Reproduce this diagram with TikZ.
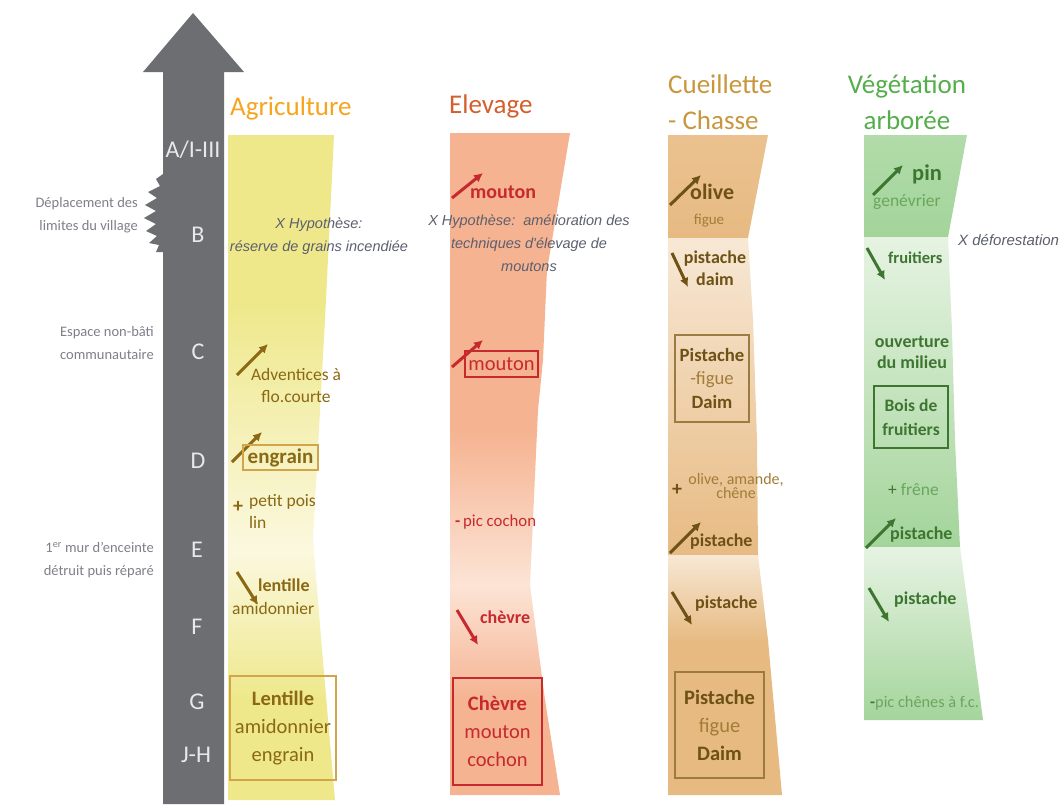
\documentclass[tikz,border=0pt]{standalone}
\usepackage{fontspec}
\setmainfont{Carlito}
\newfontfamily\hypfont{Liberation Sans}
\usepackage{xcolor}
\usepackage{tikz}
\usetikzlibrary{arrows.meta}

\definecolor{shaftgray}{HTML}{6D6E71}
\definecolor{stagewhite}{HTML}{E9E9EA}
\definecolor{notegray}{HTML}{7F8089}
\definecolor{hypgray}{HTML}{5C5F6E}
\definecolor{agrtitle}{HTML}{F5A51E}
\definecolor{agrtext}{HTML}{8A6814}
\definecolor{agrbox}{HTML}{D3A54A}
\definecolor{agrfill}{HTML}{EEE88A}
\definecolor{agrpale}{HTML}{FBF8DF}
\definecolor{elvtitle}{HTML}{D45F2C}
\definecolor{elvtext}{HTML}{C62A2E}
\definecolor{elvfill}{HTML}{F5B391}
\definecolor{elvpale}{HTML}{FCE4D6}
\definecolor{ceutitle}{HTML}{C8973D}
\definecolor{ceutext}{HTML}{6E5115}
\definecolor{ceulight}{HTML}{A37C38}
\definecolor{ceubox}{HTML}{9C7B40}
\definecolor{ceutop}{HTML}{EBC290}
\definecolor{ceufill}{HTML}{E7BA82}
\definecolor{ceupale}{HTML}{F7E8D5}
\definecolor{vegtitle}{HTML}{55AE4C}
\definecolor{vegtext}{HTML}{3D7630}
\definecolor{veglight}{HTML}{6BA65E}
\definecolor{vegtop}{HTML}{B2DCAA}
\definecolor{vegfill}{HTML}{A3D49A}
\definecolor{vegpale}{HTML}{E6F3E2}

\tikzstyle{stage} = [text=stagewhite, font=\fontsize{24}{24}\selectfont, anchor=mid, inner sep=0pt]
\tikzstyle{note} = [text=notegray, font=\fontsize{14.5}{23}\selectfont, align=right, anchor=east, inner sep=0pt]
\tikzstyle{coltitle} = [font=\fontsize{27}{36}\selectfont, inner sep=0pt]
\tikzstyle{hyp} = [text=hypgray, font=\hypfont\itshape\fontsize{14.5}{23}\selectfont, align=center, inner sep=0pt]
\tikzstyle{txt} = [font=\fontsize{17.5}{22}\selectfont, inner sep=0pt, align=center]
\tikzstyle{btxt} = [font=\fontsize{18}{22}\selectfont\bfseries, inner sep=0pt, align=center]
\tikzstyle{sign} = [font=\fontsize{20}{20}\selectfont\bfseries, inner sep=0pt]
\tikzstyle{tag} = [draw, line width=1.2pt, inner sep=0pt, align=center]
\tikzstyle{trend} = [line width=3pt, -{Latex[length=9pt,width=9pt]}]

\begin{document}
\begin{tikzpicture}[x=1pt, y=-1pt]
    \useasboundingbox (0,0) rectangle (1061,804);
    \fill[white] (0,0) rectangle (1061,804);

    % Time arrow
    \fill[shaftgray] (163,804) -- (163,252) -- (156,252) -- (159,245) -- (149,243) -- (157,236)
        -- (146,231) -- (156,224) -- (144,218) -- (156,211) -- (145,205) -- (157,198)
        -- (148,192) -- (160,186) -- (156,179) -- (163,174) -- (163,72) -- (143,72)
        -- (193,13) -- (244,72) -- (224,72) -- (224,804) -- cycle;

    % Bands
    \begin{scope}
        \clip (228,135) -- (334,135) -- (326,300) -- (313,540) -- (322,650) -- (335,800) -- (228,800) -- cycle;
        \fill[agrfill] (220,130) rectangle (340,301);
        \shade[top color=agrfill, bottom color=agrpale] (220,300) rectangle (340,551);
        \shade[top color=agrpale, bottom color=agrfill] (220,550) rectangle (340,701);
        \fill[agrfill] (220,700) rectangle (340,805);
    \end{scope}
    \begin{scope}
        \clip (450,133) -- (570,133) -- (547,270) -- (543,360) -- (538,410) -- (530,585) -- (545,700) -- (560,795) -- (450,795) -- cycle;
        \fill[elvfill] (440,130) rectangle (575,431);
        \shade[top color=elvfill, bottom color=elvpale] (440,430) rectangle (575,586);
        \shade[top color=elvpale, bottom color=elvfill] (440,585) rectangle (575,701);
        \fill[elvfill] (440,700) rectangle (575,800);
    \end{scope}
    \begin{scope}
        \clip (668,135) -- (768,135) -- (748,238) -- (753,320) -- (757,440) -- (758,555) -- (768,640) -- (782,795) -- (668,795) -- cycle;
        \shade[top color=ceutop, bottom color=ceufill] (660,130) rectangle (790,238);
        \shade[top color=ceupale, bottom color=ceufill] (660,238) rectangle (790,556);
        \shade[top color=ceupale, bottom color=ceufill] (660,555) rectangle (790,641);
        \fill[ceufill] (660,640) rectangle (790,800);
    \end{scope}
    \begin{scope}
        \clip (864,135) -- (967,135) -- (948,237) -- (952,330) -- (955,440) -- (960,547) -- (983,720) -- (864,720) -- cycle;
        \shade[top color=vegtop, bottom color=vegfill] (855,130) rectangle (990,237);
        \shade[top color=vegpale, bottom color=vegfill] (855,237) rectangle (990,548);
        \shade[top color=vegpale, bottom color=vegfill] (855,547) rectangle (990,725);
    \end{scope}

    % Stages
    \node[stage] (sA) at (193,155) {A/I-III};
    \node[stage] (sB) at (198,240) {B};
    \node[stage] (sC) at (198,357) {C};
    \node[stage] (sD) at (198,466) {D};
    \node[stage] (sE) at (197,555) {E};
    \node[stage] (sF) at (197,632) {F};
    \node[stage] (sG) at (197,707) {G};
    \node[stage] (sJH) at (196,760) {J-H};

    % Notes
    \node[note] (village) at (138,215) {Déplacement des\\limites du village};
    \node[note] (espace) at (154,343) {Espace non-bâti\\communautaire};
    \node[note] (mur) at (154,560) {1\textsuperscript{er} mur d'enceinte\\détruit puis réparé};

    % Titles
    \node[coltitle, text=agrtitle, anchor=mid west] (agr) at (230,113) {Agriculture};
    \node[coltitle, text=elvtitle, anchor=mid west] (elv) at (449,111) {Elevage};
    \node[coltitle, text=ceutitle, align=left, anchor=west] (ceu) at (668,102) {Cueillette\\- Chasse};
    \node[coltitle, text=vegtitle, align=center] (veg) at (907,102) {Végétation\\arborée};

    % Agriculture
    \node[hyp] (agrhyp) at (319,236) {X Hypothèse:\\réserve de grains incendiée};
    \draw[trend, agrtext] (237,375) -- (268,344);
    \node[txt, text=agrtext] (advent) at (296,385) {Adventices à\\flo.courte};
    \draw[trend, agrtext] (232,462) -- (262,432);
    \node[tag, draw=agrbox, text=agrtext, minimum width=75pt, minimum height=25pt, font=\fontsize{21}{21}\selectfont\bfseries] (engrain) at (280.5,457.5) {engrain};
    \node[sign, text=agrtext] (agrplus) at (238,507) {+};
    \node[txt, text=agrtext, align=left, anchor=west] (pois) at (249,511) {petit pois\\lin};
    \draw[trend, agrtext] (237,572) -- (258,605);
    \node[btxt, text=agrtext, anchor=mid west] (lent) at (258,589) {lentille};
    \node[txt, text=agrtext, anchor=mid west] (amid) at (232,612) {amidonnier};
    \node[tag, draw=agrbox, text=agrtext, minimum width=106pt, minimum height=104pt, font=\fontsize{20.5}{28}\selectfont] (agrend) at (283,728) {\textbf{Lentille}\\amidonnier\\engrain};

    % Elevage
    \draw[trend, elvtext] (452,198) -- (483,173);
    \node[btxt, text=elvtext, font=\fontsize{20}{20}\selectfont\bfseries, anchor=mid west] (mout1) at (470,196) {mouton};
    \node[hyp] (elvhyp) at (529,243) {X Hypothèse:\ \ amélioration des\\techniques d'élevage de\\moutons};
    \draw[trend, elvtext] (452,367) -- (483,340);
    \node[tag, draw=elvtext, text=elvtext, minimum width=73pt, minimum height=26pt, font=\fontsize{20.5}{20.5}\selectfont] (mout2) at (501.5,364) {mouton};
    \node[txt, text=elvtext, font=\fontsize{16.8}{20}\selectfont, anchor=mid west] (cochon) at (455,524) {\textbf{-}\,pic cochon};
    \draw[trend, elvtext] (457,610) -- (478,645);
    \node[btxt, text=elvtext, anchor=mid west] (chev) at (480,621) {chèvre};
    \node[tag, draw=elvtext, text=elvtext, minimum width=89pt, minimum height=107pt, font=\fontsize{20.5}{28}\selectfont] (elvend) at (497.5,731.5) {\textbf{Chèvre}\\mouton\\cochon};

    % Cueillette - Chasse
    \draw[trend, ceutext] (670,205) -- (701,175);
    \node[btxt, text=ceutext, font=\fontsize{22}{22}\selectfont\bfseries, anchor=mid west] (olive) at (690,197) {olive};
    \node[txt, text=ceulight, font=\fontsize{15}{16}\selectfont, anchor=mid] (figue) at (709,222) {figue};
    \draw[trend, ceutext] (672,253) -- (688,287);
    \node[btxt, text=ceutext] (pist1) at (715,268) {pistache\\daim};
    \node[tag, draw=ceubox, text=ceutext, minimum width=74pt, minimum height=87pt, font=\fontsize{18.7}{23.5}\selectfont] (ceumid) at (712,378.5) {\textbf{Pistache}\\{\color{ceulight}-figue}\\\textbf{Daim}};
    \node[sign, text=ceutext] (ceuplus) at (677,490) {+};
    \node[txt, text=ceulight, font=\fontsize{16}{12}\selectfont] (olam) at (736,486) {olive, amande,\\chêne};
    \draw[trend, ceutext] (670,553) -- (701,522);
    \node[btxt, text=ceutext, anchor=mid west] (pist2) at (690,544) {pistache};
    \draw[trend, ceutext] (672,592) -- (692,625);
    \node[btxt, text=ceutext, anchor=mid west] (pist3) at (695,606) {pistache};
    \node[tag, draw=ceubox, text=ceutext, minimum width=89pt, minimum height=106pt, font=\fontsize{20.5}{28}\selectfont] (ceuend) at (719.5,725) {\textbf{Pistache}\\{\color{ceulight}figue}\\\textbf{Daim}};

    % Vegetation arboree
    \draw[trend, vegtext] (873,195) -- (903,165);
    \node[btxt, text=vegtext, font=\fontsize{22.5}{22.5}\selectfont\bfseries, anchor=mid west] (pin) at (912,178) {pin};
    \node[txt, text=veglight, anchor=mid west] (genev) at (873,204) {genévrier};
    \node[hyp, font=\hypfont\itshape\fontsize{15}{18}\selectfont, anchor=mid west] (defor) at (958,243) {X déforestation};
    \draw[trend, vegtext] (867,248) -- (885,280);
    \node[btxt, text=vegtext, font=\fontsize{16.5}{20}\selectfont\bfseries, anchor=mid west] (fruit) at (888,261) {fruitiers};
    \node[btxt, text=vegtext, font=\fontsize{18}{21}\selectfont\bfseries] (ouvert) at (912,352) {ouverture\\du milieu};
    \node[tag, draw=vegtext, text=vegtext, minimum width=74pt, minimum height=62pt, font=\fontsize{17.5}{24}\selectfont\bfseries] (vegbox) at (911,417) {Bois de\\fruitiers};
    \node[txt, text=veglight, anchor=mid west] (frene) at (888,493) {{\color{vegtext}+} frêne};
    \draw[trend, vegtext] (866,548) -- (896,518);
    \node[btxt, text=vegtext, anchor=mid west] (pist4) at (890,537) {pistache};
    \draw[trend, vegtext] (869,588) -- (889,622);
    \node[btxt, text=vegtext, anchor=mid west] (pist5) at (894,602) {pistache};
    \node[txt, text=veglight, font=\fontsize{16.3}{20}\selectfont, anchor=mid west] (chenes) at (870,705) {{\color{vegtext}\textbf{-}}pic chênes à f.c.};
\end{tikzpicture}
\end{document}
